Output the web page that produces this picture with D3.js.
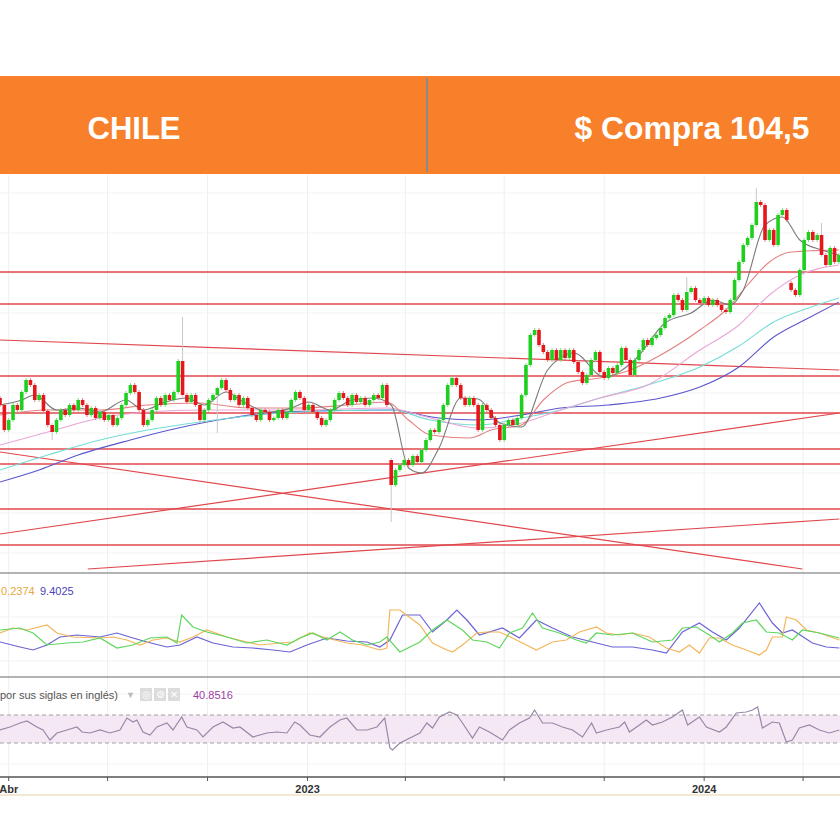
<!DOCTYPE html>
<html>
<head>
<meta charset="utf-8">
<script src="https://cdn.jsdelivr.net/npm/d3@7"></script>
<style>
  body { margin: 0; background: #fff; }
  svg { display: block; font-family: "Liberation Sans", Arial, sans-serif; }
</style>
</head>
<body>
<svg id="chart"></svg>
<script>
// ---- data ----
const startDate = new Date(2022, 2, 24);
const stepDays = 4; // one candle every 4 days

const closes = [
  83.6, 78.6, 80.6, 83.6, 82.6, 86.2, 88.6, 87.6, 84.6, 85.6,
  82.4, 79.6, 78.2, 80.6, 82.6, 81.6, 83.6, 82.6, 84.6, 83.6,
  81.6, 83.0, 81.0, 82.2, 80.6, 81.6, 79.6, 81.0, 83.6, 86.0,
  87.6, 86.2, 82.6, 79.6, 80.6, 82.6, 85.0, 83.6, 85.6, 84.6,
  86.2, 92.4, 85.6, 84.2, 85.6, 83.6, 80.6, 82.6, 84.6, 85.6,
  87.0, 88.6, 86.6, 84.6, 85.6, 83.6, 85.0, 83.0, 81.6, 80.6,
  82.6, 82.2, 80.6, 81.0, 82.6, 81.0, 82.2, 84.6, 86.2, 85.0,
  82.6, 83.6, 82.2, 81.0, 79.6, 80.6, 82.6, 84.6, 86.0, 85.0,
  83.6, 85.6, 84.2, 85.0, 83.6, 84.6, 85.6, 85.0, 87.6, 83.6,
  67.6, 70.6, 71.6, 72.6, 71.6, 73.4, 72.2, 74.6, 76.6, 78.6,
  78.2, 80.6, 83.6, 87.6, 89.0, 87.6, 85.0, 83.6, 85.0, 83.6,
  78.6, 83.6, 82.6, 81.0, 79.6, 76.6, 79.6, 80.6, 79.6, 81.0,
  85.6, 91.6, 97.6, 98.6, 95.6, 94.2, 92.6, 94.6, 92.6, 94.6,
  93.0, 94.6, 92.2, 90.2, 88.0, 89.6, 92.6, 94.2, 90.2, 89.0,
  91.0, 90.0, 91.6, 95.0, 92.6, 89.6, 92.6, 94.6, 96.6, 95.6,
  97.0, 97.6, 99.0, 101.0, 101.6, 105.6, 104.6, 102.6, 106.2, 107.0,
  104.6, 104.0, 105.0, 103.6, 104.6, 103.6, 102.6, 102.2, 104.6, 108.6,
  112.2, 115.6, 117.0, 119.6, 124.2, 123.6, 116.6, 118.6, 115.6, 121.6,
  122.6, 120.6, 106.6, 105.6, 110.6, 116.6, 118.2, 116.6, 117.6, 113.6,
  111.6, 115.0, 112.2, 113.6
];
// opens that differ from the previous close (gaps): [candle, open]
const gapOpens = [[0, 85.0], [90, 72.6], [182, 108.0]];
// long wicks: [candle, price]
const wickHighs = [[42, 101.2], [158, 109.2], [174, 127.0], [189, 120.0]];
const wickLows = [[12, 76.6], [50, 78.0], [90, 60.2]];

// moving averages: [candle, value]
const maShort = [[0, 83.6], [5, 84.6], [8, 85.6], [13, 82.6], [18, 83.0], [23, 82.2], [29, 84.6], [33, 82.6],
  [38, 84.2], [43, 85.0], [47, 83.6], [52, 86.2], [56, 84.2], [62, 82.2], [67, 83.0], [71, 84.2], [76, 82.6],
  [81, 84.6], [86, 85.0], [90, 83.6], [94, 71.0], [97, 70.0], [101, 75.0], [106, 85.0], [110, 84.8],
  [115, 80.0], [120, 79.2], [126, 90.6], [132, 94.0], [139, 89.2], [146, 92.6], [153, 100.0], [159, 102.0],
  [164, 104.6], [168, 103.6], [171, 106.6], [176, 119.6], [180, 121.2], [184, 116.6], [189, 114.6], [193, 113.6]];
const maMid = [[0, 81.6], [11, 82.6], [23, 82.6], [34, 83.6], [46, 84.0], [57, 83.0], [69, 83.0], [80, 83.6],
  [89, 84.2], [94, 80.6], [99, 77.6], [108, 77.0], [113, 78.6], [120, 79.6], [125, 84.6], [131, 88.2],
  [138, 89.0], [145, 90.6], [152, 93.6], [161, 98.6], [167, 102.6], [172, 107.6], [177, 112.2],
  [182, 114.2], [193, 114.6]];
const maPink = [[0, 75.6], [11, 78.2], [23, 81.0], [34, 82.2], [46, 82.6], [69, 82.6], [89, 83.0], [99, 81.0],
  [110, 79.0], [120, 80.0], [129, 82.6], [138, 85.0], [149, 87.6], [161, 94.6], [170, 99.6], [177, 105.6],
  [184, 109.6], [193, 111.6]];
const maCyan = [[0, 70.6], [11, 73.6], [23, 76.6], [34, 78.6], [46, 80.2], [57, 81.4], [69, 82.2], [90, 82.6],
  [99, 80.6], [110, 79.6], [120, 81.0], [129, 82.6], [138, 85.0], [149, 87.6], [161, 91.2], [170, 95.4],
  [178, 100.2], [186, 103.0], [193, 105.0]];
const maBlue = [[0, 68.2], [9, 70.6], [18, 73.6], [30, 76.6], [41, 79.0], [53, 81.0], [64, 82.2], [90, 82.6],
  [101, 81.0], [110, 80.6], [120, 81.6], [129, 83.0], [140, 83.6], [152, 85.0], [161, 87.2], [170, 91.2],
  [178, 97.2], [186, 101.0], [193, 104.2]];

// support / resistance levels and trend lines
const levels = [110.2, 103.8, 89.4, 82.0, 74.8, 71.8, 62.8, 55.6];
const trendLines = [
  [[0, 96.6], [193.1, 90.6]],
  [[0, 74.2], [184.6, 50.8]],
  [[0, 57.8], [193.1, 82.0]],
  [[20.2, 50.8], [193.1, 60.8]]
];

// DMI: [candle, value]
const diPlus = [[0, 23.5], [4.6, 24.5], [7.6, 22], [10.8, 16], [15.4, 17], [19.1, 17.5], [23, 19.5], [26.9, 14.5],
  [30.6, 16], [34.5, 19.5], [38.4, 20], [40.7, 17], [41.8, 31], [44.4, 25], [47.6, 22.5], [52.2, 20], [56.8, 17],
  [61.4, 18.5], [66, 16], [69, 19.5], [72, 22], [75.2, 18.5], [78.2, 22.5], [81.1, 18.5], [84.4, 16], [87.4, 17.5],
  [89, 20], [92, 12.5], [96.6, 17.5], [99.5, 23.5], [102.8, 28.5], [106.4, 23.5], [108.7, 18.5], [112, 17.5],
  [114.9, 14.5], [117.2, 22], [120.2, 24.5], [122.5, 32], [124.8, 24.5], [128.7, 22], [132.6, 18.5], [134.9, 17],
  [137.2, 22], [140.9, 21], [145.5, 22], [150.1, 17.5], [154.7, 18.5], [157, 24.5], [160.2, 25], [163.2, 21],
  [165.5, 17.5], [168.5, 22], [170.8, 27], [174, 28.5], [176.3, 22.5], [179.3, 22], [182.3, 18.5], [184.6, 23.5],
  [188.5, 22], [193.1, 19.5]];
const diMinus = [[0, 22], [3, 24.5], [6.2, 23.5], [10.8, 26], [13.1, 22], [16.8, 20], [23, 19.5], [26, 20],
  [29.2, 18.5], [32.2, 16], [35.2, 18.5], [38.4, 19.5], [41.4, 17.5], [44.4, 20], [47.6, 23.5], [52.2, 20],
  [56.8, 17.5], [59.8, 16], [64.4, 17], [67.4, 17.5], [71.3, 22], [75.2, 19.5], [79.8, 17], [83.4, 16],
  [87.4, 13.5], [89, 14.5], [89.7, 33.5], [92, 33.5], [96.6, 26], [99.5, 17], [102.8, 13.5], [104.1, 12.5],
  [106.4, 16], [109.7, 22], [112, 22.5], [114.9, 22.5], [117.9, 19.5], [121.1, 16], [123.4, 13.5], [127.1, 17.5],
  [130.3, 18.5], [133.3, 22.5], [137.2, 25], [139.5, 22], [142.5, 21], [145.5, 22], [149.4, 20], [153.3, 14.5],
  [156.3, 12.5], [158.6, 16], [160.9, 12], [163.2, 19.5], [165.5, 19.5], [168.5, 16], [171.7, 13.5], [174.7, 11],
  [176.3, 13.5], [177.7, 20], [180, 20], [180.9, 30], [183.2, 28.5], [185.5, 23.5], [188.5, 22], [193.1, 18.5]];
const adx = [[0, 17.5], [4.6, 15], [7.6, 13.5], [10.8, 16], [13.8, 20], [17.7, 21], [23, 20], [26.9, 22],
  [30.6, 19.5], [33.8, 17.5], [38.4, 15], [41.4, 16], [45.3, 20], [49, 17], [53.6, 15], [58.2, 14.5],
  [62.8, 13.5], [66.7, 12.5], [70.6, 16], [75.2, 19.5], [79.8, 18], [84.4, 17.5], [87.4, 15], [89.7, 18.5],
  [92.6, 31], [96.6, 31], [99.5, 22.5], [102.8, 28.5], [105.1, 33.5], [107.4, 28.5], [110.3, 21], [115.6, 24.5],
  [119.5, 19.5], [123.4, 28.5], [127.1, 24.5], [131.7, 20], [136.3, 17.5], [140.9, 15], [145.5, 15],
  [150.1, 13.5], [153.3, 12], [157, 22.5], [160.9, 27], [163.9, 22.5], [167.1, 18.5], [170.1, 24.5],
  [174.7, 37], [177.7, 27], [180, 22], [182.3, 23.5], [186.9, 17], [190.1, 15], [193.1, 14.5]];

// RSI: [candle, value]
const rsi = [[0, 48.6], [2.3, 52.9], [4.6, 58.6], [6.2, 61.4], [8.5, 52.9], [9.9, 48.6], [11.5, 34.3],
  [13.1, 44.3], [15.4, 48.6], [17.7, 52.9], [18.9, 45.7], [20.7, 44.3], [23, 48.6], [25.3, 44.3], [27.6, 48.6],
  [29.2, 65.7], [30.6, 60], [31.5, 62.9], [32.9, 45.7], [34.5, 41.4], [36.1, 52.9], [38.4, 58.6], [39.8, 48.6],
  [41.8, 67.1], [43, 52.9], [45.3, 48.6], [46.7, 38.6], [49, 52.9], [51.3, 60], [53.6, 51.4], [55.2, 52.9],
  [58.2, 38.6], [61.4, 44.3], [63.7, 45.7], [66, 44.3], [67.8, 60], [69, 55.7], [71.3, 41.4], [73.6, 38.6],
  [75.9, 52.9], [78.2, 62.9], [79.8, 65.7], [82.1, 48.6], [84.4, 48.6], [86.7, 52.9], [88.5, 65.7], [89.7, 22.9],
  [90.3, 20], [92, 30], [94.3, 37.1], [96.6, 44.3], [98.2, 58.6], [99.5, 51.4], [101.1, 67.1], [103.4, 74.3],
  [105.1, 70], [106.4, 58.6], [108.7, 37.1], [110.3, 52.9], [112.6, 45.7], [115.6, 34.3], [117.2, 48.6],
  [119.5, 58.6], [121.8, 65.7], [123, 77.1], [124.8, 58.6], [127.1, 58.6], [129.4, 52.9], [131.7, 48.6],
  [134, 38.6], [136.1, 58.6], [137.2, 44.3], [139.5, 48.6], [142.5, 52.9], [143.7, 60], [144.8, 45.7],
  [147.1, 55.7], [148.7, 62.9], [150.1, 55.7], [152.4, 60], [154.7, 67.1], [157, 77.1], [158.2, 55.7],
  [160.9, 67.1], [162.5, 52.9], [165.5, 45.7], [167.1, 52.9], [169.4, 72.9], [171.7, 74.3], [173.1, 77.1],
  [174.3, 81.4], [175.4, 51.4], [177.7, 60], [179.3, 58.6], [180.9, 31.4], [182.3, 34.3], [183.9, 51.4],
  [186.2, 55.7], [188.5, 48.6], [190.8, 44.3], [193.1, 48.6]];

const tickDates = [new Date(2022, 3, 1), new Date(2022, 6, 1), new Date(2022, 9, 1), new Date(2023, 0, 1),
  new Date(2023, 3, 1), new Date(2023, 6, 1), new Date(2023, 9, 1), new Date(2024, 0, 1), new Date(2024, 3, 1)];
const tickLabels = ["Abr", "", "", "2023", "", "", "", "2024", ""];
const priceGrid = [126, 118, 110, 102, 94, 86, 78, 70, 62, 54];

// ---- layout ----
const width = 840, height = 840;
const price = { top: 175, bottom: 573 };
const dmi = { top: 573, bottom: 677 };
const rsiPane = { top: 677, bottom: 777 };

const svg = d3.select("#chart").attr("width", width).attr("height", height);
svg.append("rect").attr("width", width).attr("height", height).attr("fill", "#fff");

const dateAt = i => new Date(startDate.getTime() + i * stepDays * 864e5);
const x = d3.scaleTime()
  .domain([startDate, new Date(2024, 4, 5)])
  .range([0, width]);
const yP = d3.scaleLinear().domain([50, 129.6]).range([price.bottom, price.top]);
const yD = d3.scaleLinear().domain([0, 52]).range([dmi.bottom, dmi.top]);
const yR = d3.scaleLinear().domain([0, 100]).range([764, 694]);

// header band
svg.append("rect").attr("x", 0).attr("y", 76).attr("width", width).attr("height", 98).attr("fill", "#f8802a");
svg.append("line").attr("x1", 427).attr("x2", 427).attr("y1", 78).attr("y2", 172)
  .attr("stroke", "#8a8a8a").attr("stroke-width", 2);
svg.append("text").attr("x", 134).attr("y", 139).attr("text-anchor", "middle")
  .attr("fill", "#fff").attr("font-size", 32).attr("font-weight", "bold")
  .attr("textLength", 93).attr("lengthAdjust", "spacingAndGlyphs").text("CHILE");
svg.append("text").attr("x", 692).attr("y", 139).attr("text-anchor", "middle")
  .attr("fill", "#fff").attr("font-size", 32).attr("font-weight", "bold")
  .attr("textLength", 235).attr("lengthAdjust", "spacingAndGlyphs").text("$ Compra 104,5");

// clip paths
const defs = svg.append("defs");
function clip(id, pane) {
  defs.append("clipPath").attr("id", id).append("rect")
    .attr("x", 0).attr("y", pane.top).attr("width", width).attr("height", pane.bottom - pane.top);
  return `url(#${id})`;
}
const gGrid = svg.append("g");
const gPrice = svg.append("g").attr("clip-path", clip("clipPrice", price));
const gDmi = svg.append("g").attr("clip-path", clip("clipDmi", dmi));
const gRsi = svg.append("g").attr("clip-path", clip("clipRsi", rsiPane));

// vertical grid across all panes
gGrid.selectAll("line").data(tickDates).join("line")
  .attr("x1", d => x(d)).attr("x2", d => x(d))
  .attr("y1", price.top).attr("y2", rsiPane.bottom)
  .attr("stroke", "#efefef");

// price pane
gPrice.append("g").selectAll("line").data(priceGrid).join("line")
  .attr("x1", 0).attr("x2", width).attr("y1", d => yP(d)).attr("y2", d => yP(d))
  .attr("stroke", "#f2f2f2");

const lineIdx = d3.line().x(d => x(dateAt(d[0]))).y(d => yP(d[1]));

gPrice.append("g").selectAll("line").data(levels).join("line")
  .attr("x1", 0).attr("x2", width).attr("y1", d => yP(d)).attr("y2", d => yP(d))
  .attr("stroke", "#e0474c").attr("stroke-width", 1.3);
gPrice.append("g").selectAll("path").data(trendLines).join("path")
  .attr("d", lineIdx).attr("fill", "none")
  .attr("stroke", "#e0474c").attr("stroke-width", 1.2);

const maCurve = d3.line().x(d => x(dateAt(d[0]))).y(d => yP(d[1])).curve(d3.curveMonotoneX);
[[maBlue, "#5a56cc"], [maCyan, "#74ddd6"], [maPink, "#eaa6d8"], [maMid, "#e58080"], [maShort, "#7a7a7a"]]
  .forEach(([data, color]) => {
    gPrice.append("path").attr("d", maCurve(data)).attr("fill", "none")
      .attr("stroke", color).attr("stroke-width", 1.1);
  });

// candles
const gapMap = new Map(gapOpens);
const hiMap = new Map(wickHighs);
const loMap = new Map(wickLows);
const candles = closes.map((c, i) => {
  const o = gapMap.has(i) ? gapMap.get(i) : closes[i - 1];
  return { i, date: dateAt(i), open: o, close: c, high: hiMap.get(i), low: loMap.get(i) };
});
const up = d => d.close >= d.open;

const gC = gPrice.append("g");
gC.selectAll("line").data(candles).join("line")
  .attr("x1", d => x(d.date)).attr("x2", d => x(d.date))
  .attr("y1", d => d.high !== undefined ? yP(d.high) : yP(Math.max(d.open, d.close)) - 2)
  .attr("y2", d => d.low !== undefined ? yP(d.low) : yP(Math.min(d.open, d.close)) + 2)
  .attr("stroke", d => (d.high !== undefined || d.low !== undefined) ? "#c8c8c8" : (up(d) ? "#7fe07f" : "#ee7a7d"))
  .attr("stroke-width", 1);
gC.selectAll("rect").data(candles).join("rect")
  .attr("x", d => x(d.date) - 1.8)
  .attr("width", 3.6)
  .attr("y", d => yP(Math.max(d.open, d.close)))
  .attr("height", d => Math.max(1.5, Math.abs(yP(d.open) - yP(d.close))))
  .attr("fill", d => up(d) ? "#1fcf1f" : "#e5161c");

// pane separators
[price.bottom, dmi.bottom].forEach(y => {
  svg.append("line").attr("x1", 0).attr("x2", width).attr("y1", y).attr("y2", y)
    .attr("stroke", "#9a9a9a").attr("stroke-width", 1.5);
});

// DMI pane
gDmi.append("g").selectAll("line").data([30, 8]).join("line")
  .attr("x1", 0).attr("x2", width).attr("y1", d => yD(d)).attr("y2", d => yD(d))
  .attr("stroke", "#f2f2f2");
const dmiLine = d3.line().x(d => x(dateAt(d[0]))).y(d => yD(d[1]));
[[adx, "#6b63d6"], [diMinus, "#f2b65a"], [diPlus, "#5fd65f"]].forEach(([data, color]) => {
  gDmi.append("path").attr("d", dmiLine(data)).attr("fill", "none")
    .attr("stroke", color).attr("stroke-width", 1.2);
});
svg.append("text").attr("x", 1).attr("y", 595).attr("font-size", 11).attr("fill", "#e8a63c").text("0.2374");
svg.append("text").attr("x", 40).attr("y", 595).attr("font-size", 11).attr("fill", "#4a42b8").text("9.4025");

// RSI pane
gRsi.append("rect").attr("x", 0).attr("width", width)
  .attr("y", yR(70)).attr("height", yR(30) - yR(70)).attr("fill", "#f5e8f5");
gRsi.append("g").selectAll("line").data([100, 0]).join("line")
  .attr("x1", 0).attr("x2", width).attr("y1", d => yR(d)).attr("y2", d => yR(d))
  .attr("stroke", "#f2f2f2");
gRsi.append("g").selectAll("line").data([70, 30]).join("line")
  .attr("x1", 0).attr("x2", width).attr("y1", d => yR(d)).attr("y2", d => yR(d))
  .attr("stroke", "#a0a0a0").attr("stroke-dasharray", "4,3");
const rsiLine = d3.line().x(d => x(dateAt(d[0]))).y(d => yR(d[1]));
gRsi.append("path").attr("d", rsiLine(rsi)).attr("fill", "none")
  .attr("stroke", "#9b86a6").attr("stroke-width", 1.2);

svg.append("text").attr("x", 0).attr("y", 699).attr("font-size", 11).attr("fill", "#555")
  .text("por sus siglas en inglés)");
svg.append("text").attr("x", 126).attr("y", 698).attr("font-size", 9).attr("fill", "#bbb").text("▼");
const icons = svg.append("g").attr("font-size", 10).attr("fill", "#fff").attr("text-anchor", "middle");
["◎", "⚙", "✕"].forEach((s, k) => {
  icons.append("rect").attr("x", 140 + k * 14).attr("y", 688).attr("width", 12).attr("height", 13).attr("fill", "#dcdcdc");
  icons.append("text").attr("x", 146 + k * 14).attr("y", 698).text(s);
});
svg.append("text").attr("x", 193).attr("y", 699).attr("font-size", 11).attr("fill", "#9c3ea4").text("40.8516");

// time axis
const axisG = svg.append("g").attr("transform", `translate(0,${rsiPane.bottom})`);
axisG.append("line").attr("x1", 0).attr("x2", width).attr("stroke", "#555").attr("stroke-width", 1.5);
axisG.selectAll("line.tick").data(tickDates).join("line").attr("class", "tick")
  .attr("x1", d => x(d)).attr("x2", d => x(d)).attr("y1", 0).attr("y2", 4)
  .attr("stroke", "#555");
axisG.selectAll("text").data(tickDates).join("text")
  .attr("x", d => x(d)).attr("y", 16).attr("text-anchor", "middle")
  .attr("font-size", 11).attr("font-weight", 600).attr("fill", "#333")
  .text((d, k) => tickLabels[k]);
svg.append("line").attr("x1", 0).attr("x2", width).attr("y1", 795).attr("y2", 795)
  .attr("stroke", "#e6d3a6").attr("stroke-width", 1);
</script>
</body>
</html>
